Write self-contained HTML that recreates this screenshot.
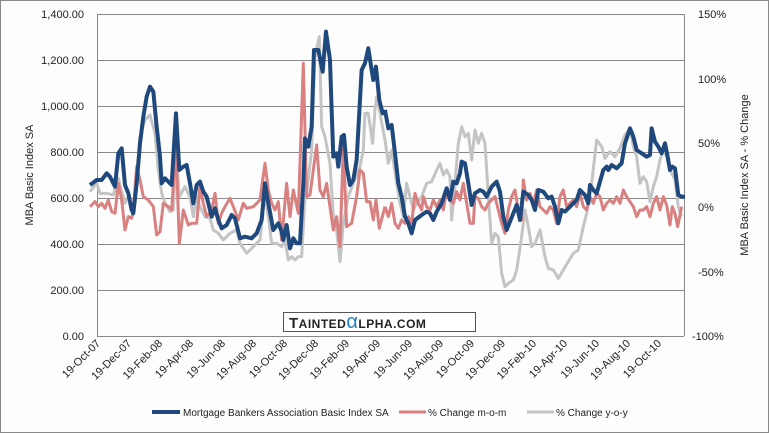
<!DOCTYPE html>
<html><head><meta charset="utf-8"><style>
body{margin:0;background:#fff}
svg{display:block;font-family:"Liberation Sans",sans-serif}
</style></head><body>
<svg width="769" height="433" viewBox="0 0 769 433">
<rect x="0.5" y="0.5" width="768" height="432" fill="#fcfdfc" stroke="#888"/>
<g stroke="#888" stroke-width="1">
<line x1="97" y1="14.5" x2="684" y2="14.5"/><line x1="97" y1="60.5" x2="684" y2="60.5"/>
<line x1="97" y1="106.5" x2="684" y2="106.5"/><line x1="97" y1="152.5" x2="684" y2="152.5"/>
<line x1="97" y1="198.5" x2="684" y2="198.5"/><line x1="97" y1="244.5" x2="684" y2="244.5"/>
<line x1="97" y1="290.5" x2="684" y2="290.5"/><line x1="97" y1="336.5" x2="684" y2="336.5"/>
<line x1="97.5" y1="14" x2="97.5" y2="336"/><line x1="684.5" y1="14" x2="684.5" y2="336"/>
</g>
<g font-size="11" fill="#222" text-anchor="end">
<text x="84" y="18">1,400.00</text><text x="84" y="64">1,200.00</text><text x="84" y="110">1,000.00</text>
<text x="84" y="156">800.00</text><text x="84" y="202">600.00</text><text x="84" y="248">400.00</text>
<text x="84" y="294">200.00</text><text x="84" y="340">0.00</text>
</g>
<g font-size="11" fill="#222">
<text x="698" y="18">150%</text><text x="698" y="83">100%</text><text x="698" y="147">50%</text>
<text x="698" y="211">0%</text><text x="698" y="276">-50%</text><text x="692" y="340">-100%</text>
</g>
<text transform="translate(33,175) rotate(-90)" font-size="11" text-anchor="middle" fill="#222">MBA Basic Index SA</text>
<text transform="translate(748,175) rotate(-90)" font-size="11" text-anchor="middle" fill="#222">MBA Basic Index SA - % Change</text>
<g font-size="11" fill="#222" text-anchor="end">
<text transform="translate(101,344) rotate(-45)">19-Oct-07</text>
<text transform="translate(132,344) rotate(-45)">19-Dec-07</text>
<text transform="translate(163,344) rotate(-45)">19-Feb-08</text>
<text transform="translate(194,344) rotate(-45)">19-Apr-08</text>
<text transform="translate(226,344) rotate(-45)">19-Jun-08</text>
<text transform="translate(257,344) rotate(-45)">19-Aug-08</text>
<text transform="translate(288,344) rotate(-45)">19-Oct-08</text>
<text transform="translate(319,344) rotate(-45)">19-Dec-08</text>
<text transform="translate(350,344) rotate(-45)">19-Feb-09</text>
<text transform="translate(381,344) rotate(-45)">19-Apr-09</text>
<text transform="translate(413,344) rotate(-45)">19-Jun-09</text>
<text transform="translate(444,344) rotate(-45)">19-Aug-09</text>
<text transform="translate(475,344) rotate(-45)">19-Oct-09</text>
<text transform="translate(506,344) rotate(-45)">19-Dec-09</text>
<text transform="translate(537,344) rotate(-45)">19-Feb-10</text>
<text transform="translate(568,344) rotate(-45)">19-Apr-10</text>
<text transform="translate(600,344) rotate(-45)">19-Jun-10</text>
<text transform="translate(631,344) rotate(-45)">19-Aug-10</text>
<text transform="translate(662,344) rotate(-45)">19-Oct-10</text>
</g>
<rect x="283.5" y="312.5" width="192" height="19" fill="#fff" stroke="#555"/>
<text x="289" y="328" font-size="15" font-weight="bold" fill="#222" letter-spacing="0.5">T<tspan font-size="12">AINTED</tspan><tspan fill="#1e7fc8" font-size="20" font-weight="normal">α</tspan><tspan font-size="12">LPHA.COM</tspan></text>
<g fill="none" stroke-linejoin="round">
<g transform="translate(90,10) scale(0.3333)">
<polyline stroke="#c4c4c4" stroke-width="9" points="0,545 20,520 30,550 50,550 70,555 85,505 95,545 105,580 115,560 125,590 130,610 140,500 150,380 165,330 180,315 195,370 205,480 215,550 225,580 240,605 250,600 258,430 268,560 285,530 300,560 310,620 320,560 330,590 345,620 360,625 370,660 385,670 400,690 420,670 440,660 450,700 470,730 490,710 510,690 525,550 535,620 545,700 560,700 575,710 585,690 595,750 605,740 615,750 625,740 635,740 645,560 650,550 665,420 675,140 688,80 695,350 705,380 720,460 730,620 740,660 750,755 760,640 775,560 790,520 810,470 820,420 825,310 835,310 848,400 855,300 860,260 870,310 885,390"/>
<polyline stroke="#d98080" stroke-width="9" points="0,590 15,575 25,590 35,580 45,595 55,570 65,605 75,610 85,520 95,570 105,660 115,620 125,625 130,600 140,470 150,510 160,560 175,570 190,590 200,675 210,665 220,580 235,590 245,600 258,405 268,700 280,600 295,645 305,640 320,640 330,530 340,580 350,620 365,600 375,550 385,640 395,610 405,590 420,565 430,590 445,630 460,580 470,595 490,590 510,570 525,460 535,540 545,580 555,600 565,575 575,690 590,520 600,620 610,540 625,610 640,160 650,560 660,555 670,480 680,405 690,540 700,560 710,520 720,590 730,660 740,620 750,710 760,410 770,650 785,640 800,560 810,480 820,490 830,575 840,575 850,630 858,570 868,655 885,590"/>
<polyline stroke="#1f497d" stroke-width="12" points="0,525 20,510 35,510 50,490 60,500 75,530 85,430 95,415 105,525 115,550 125,600 130,610 140,520 150,400 160,320 170,260 180,230 190,245 200,350 210,440 215,520 225,505 245,525 258,310 268,480 280,470 290,465 300,520 310,580 320,525 330,515 340,545 350,560 365,620 375,595 385,630 395,655 410,645 425,615 435,625 450,685 465,680 485,685 500,670 515,630 525,520 535,580 550,660 565,640 575,665 580,690 590,645 600,715 610,685 620,700 630,700 640,520 645,385 655,410 665,350 672,120 685,120 698,185 708,65 720,150 725,300 730,440 740,430 745,470 755,380 762,375 770,470 780,525 790,510 800,450 815,180 825,160 835,115 845,180 850,210 858,170 868,270 878,310 885,300"/>
</g>
<g transform="translate(385,10) scale(0.3333)">
<polyline stroke="#c4c4c4" stroke-width="9" points="0,390 10,460 20,420 35,520 45,580 55,620 65,520 75,560 85,600 95,580 110,560 125,520 140,515 155,480 165,460 175,495 185,480 195,500 200,630 210,520 220,400 230,350 240,380 250,370 260,450 270,360 280,400 290,370 300,400 310,560 320,700 330,670 340,680 350,790 360,830 370,820 385,810 395,780 410,680 420,600 430,650 440,710 450,700 465,660 480,740 490,775 505,780 520,805 535,780 550,755 565,730 580,720 595,650 605,610 620,520 635,390 650,410 660,445 675,425 690,440 705,415 720,375 735,355 745,410 755,440 765,520 775,500 785,515 795,575 805,530 815,500 825,450 835,420 845,440 855,480 870,510 880,590 890,620"/>
<polyline stroke="#d98080" stroke-width="9" points="0,590 10,620 20,580 30,640 40,655 50,630 60,640 70,620 80,640 90,550 100,580 110,600 115,560 125,590 135,600 145,570 155,590 165,570 175,600 185,540 195,570 205,580 215,545 225,570 235,520 245,580 255,640 265,640 270,560 280,565 290,590 300,600 310,580 320,570 330,560 340,600 350,640 360,670 370,600 380,560 390,540 400,600 410,630 415,510 425,570 435,550 445,580 455,540 465,590 475,600 485,610 495,590 505,600 515,640 525,560 535,540 545,590 555,580 565,570 575,590 585,550 595,590 605,600 615,560 625,580 635,550 645,560 655,600 665,580 675,570 685,580 695,560 705,580 715,540 725,560 735,575 745,590 755,620 765,600 775,600 785,590 795,620 805,580 815,560 825,600 835,560 845,585 855,645 862,590 870,610 878,650 890,590"/>
<polyline stroke="#1f497d" stroke-width="12" points="0,300 10,355 20,345 30,430 40,520 50,560 60,620 70,640 80,670 90,630 110,615 125,605 135,610 145,630 155,605 170,580 185,535 195,570 205,515 215,520 225,490 230,455 240,460 250,520 260,585 270,550 285,540 295,545 305,560 320,530 335,515 345,545 355,620 365,660 375,635 385,610 395,585 405,630 415,545 430,555 440,570 450,600 460,540 475,545 490,565 500,560 510,590 520,640 530,600 540,605 555,590 565,580 575,570 585,540 600,555 610,580 615,525 625,540 635,550 645,515 655,480 665,470 670,480 680,465 695,475 710,460 720,400 735,355 745,380 755,420 770,430 785,440 795,435 800,355 810,395 820,410 830,430 840,400 848,440 855,480 862,470 870,475 880,555 890,560 900,560"/>
</g>
</g>
<g font-size="10" fill="#222">
<line x1="152" y1="412" x2="180" y2="412" stroke="#1f497d" stroke-width="4"/>
<text x="183" y="416">Mortgage Bankers Association Basic Index SA</text>
<line x1="399" y1="412" x2="426" y2="412" stroke="#d98080" stroke-width="3"/>
<text x="428" y="416">% Change m-o-m</text>
<line x1="527" y1="412" x2="554" y2="412" stroke="#c4c4c4" stroke-width="3"/>
<text x="556" y="416">% Change y-o-y</text>
</g>
</svg>
</body></html>
